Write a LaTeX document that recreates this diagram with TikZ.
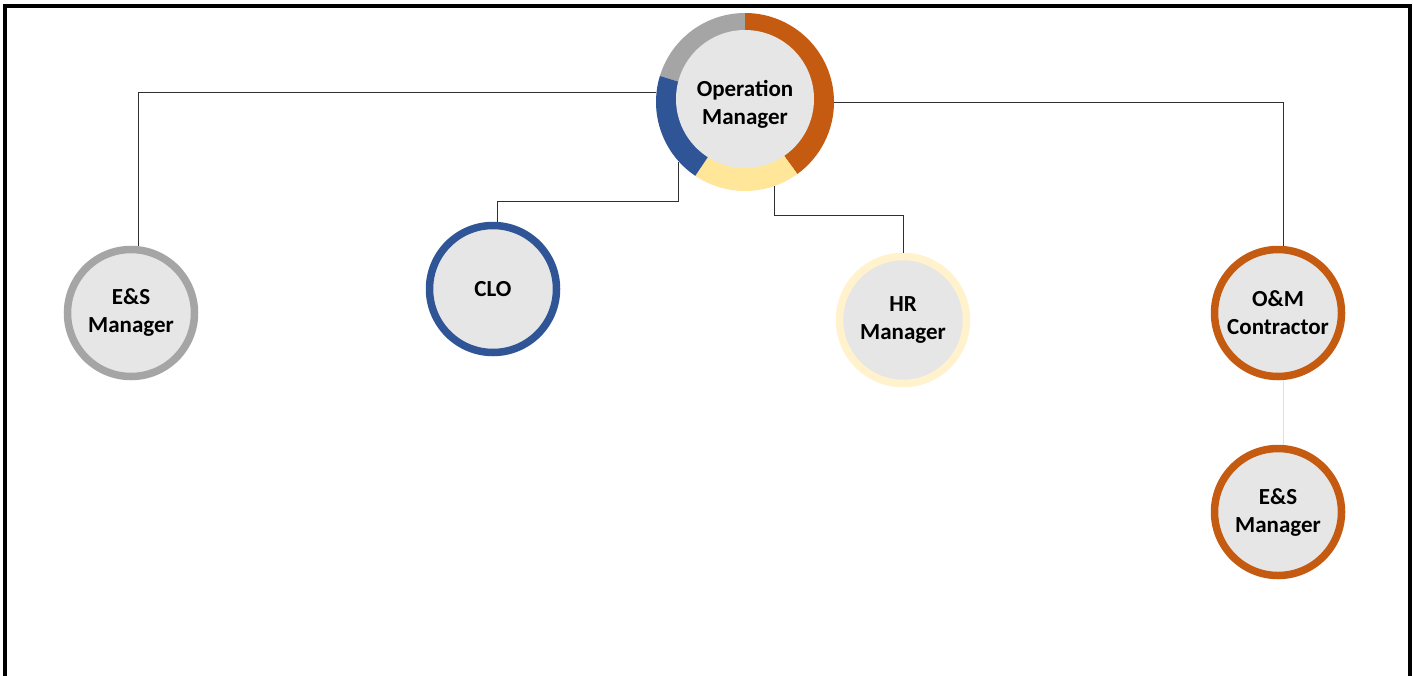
\documentclass[tikz,border=0pt]{standalone}
\usepackage{fontspec}
\setmainfont{Carlito}
\usetikzlibrary{calc}
\definecolor{cOrange}{HTML}{C55A11}
\definecolor{cBlue}{HTML}{2F5597}
\definecolor{cGray}{HTML}{A5A5A5}
\definecolor{cYellow}{HTML}{FFE699}
\definecolor{cPale}{HTML}{FFF2CC}
\definecolor{cInner}{HTML}{E7E6E6}
\definecolor{cLine}{HTML}{303030}
\tikzset{
  ringnode/.style={circle, draw=#1, line width=7.5pt, fill=cInner, minimum size=127pt,
    inner sep=0pt, align=center, font=\fontsize{23}{28}\selectfont\bfseries},
  textnode/.style={inner sep=0pt, align=center, font=\fontsize{23}{28}\selectfont\bfseries},
  conn/.style={draw=cLine, line width=0.9pt},
  faint/.style={draw=black!12, line width=0.8pt},
}
\begin{document}
\begin{tikzpicture}[x=1pt,y=-1pt]
\useasboundingbox (0,0) rectangle (1413,675);
\fill[white] (0,0) rectangle (1413,675);
\begin{scope}
\clip (0,0) rectangle (1413,675);
\draw[line width=4pt] (5,5.5) rectangle (1410,720);
\end{scope}

% top node (y axis points down, so angles are mirrored)
\node[circle, minimum size=178pt, inner sep=0pt] (om) at (745,102) {};
\coordinate (c) at (745,102);
\fill[cGray]   (c) -- ++(-163:89) arc[start angle=-163, end angle=-90, radius=89] -- cycle;
\fill[cOrange] (c) -- ++(-90:89) arc[start angle=-90, end angle=54, radius=89] -- cycle;
\fill[cYellow] (c) -- ++(54:89) arc[start angle=54, end angle=124, radius=89] -- cycle;
\fill[cBlue]   (c) -- ++(124:89) arc[start angle=124, end angle=197, radius=89] -- cycle;
\fill[cInner] (745,99) circle[radius=69];
\node[textnode] (omtext) at (745,104) {Operation\\Manager};

% child nodes
\node[ringnode=cGray]   (es1) at (131,313) {E\&S\\Manager};
\node[ringnode=cBlue]   (clo) at (493,289) {CLO};
\node[ringnode=cPale]   (hr)  at (903,320) {HR\\Manager};
\node[ringnode=cOrange] (omc) at (1278,313) {O\&M\\Contractor};
\node[ringnode=cOrange] (es2) at (1278,512) {E\&S\\Manager};

% connectors
\draw[conn] (om.174) -| ([xshift=7pt]es1.north);
\draw[conn] (om.222) -- (om.222 |- 0,201) -| ([xshift=4pt]clo.north);
\draw[conn] (om.-71) -- (om.-71 |- 0,215) -| (hr.north);
\draw[conn] (om.east) -| ([xshift=5pt]omc.north);
\draw[faint] ([xshift=5pt]omc.south) -- ([xshift=5pt]es2.north);
\end{tikzpicture}
\end{document}
